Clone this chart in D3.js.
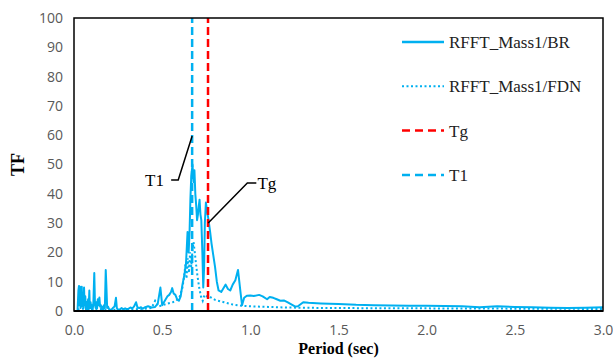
<!DOCTYPE html>
<html>
<head>
<meta charset="utf-8">
<script src="https://cdn.jsdelivr.net/npm/d3@7"></script>
<style>
  body { margin: 0; background: #fff; }
  svg { display: block; }
</style>
</head>
<body>
<svg id="chart" width="613" height="358"></svg>
<script>
// periods (sec) and TF for the BR series
const brPeriod = [0.02,0.025,0.028,0.031,0.034,0.037,0.040,0.044,0.047,0.050,0.054,0.057,0.060,0.064,0.068,0.072,0.076,0.080,0.083,0.087,0.090,0.094,0.098,0.102,0.106,0.110,0.115,0.119,0.123,0.127,0.131,0.135,0.140,0.144,0.148,0.152,0.156,0.160,0.165,0.170,0.175,0.180,0.184,0.188,0.193,0.20,0.21,0.22,0.23,0.238,0.243,0.25,0.26,0.27,0.28,0.29,0.30,0.31,0.32,0.33,0.34,0.352,0.36,0.37,0.38,0.39,0.40,0.42,0.44,0.46,0.475,0.49,0.50,0.51,0.52,0.53,0.54,0.55,0.557,0.565,0.575,0.585,0.595,0.605,0.615,0.625,0.635,0.640,0.644,0.650,0.655,0.660,0.665,0.672,0.678,0.683,0.688,0.693,0.698,0.703,0.708,0.712,0.717,0.722,0.728,0.733,0.738,0.742,0.748,0.755,0.763,0.772,0.78,0.79,0.80,0.81,0.82,0.835,0.85,0.86,0.873,0.886,0.90,0.915,0.93,0.945,0.953,0.965,0.98,1.00,1.02,1.05,1.07,1.095,1.11,1.13,1.15,1.17,1.19,1.21,1.24,1.255,1.27,1.30,1.33,1.40,1.5,1.6,1.7,1.8,1.9,2.0,2.1,2.2,2.3,2.4,2.5,2.6,2.7,2.8,2.9,3.0];
const brTF = [0,7,8.5,2,8.3,1,6,8.3,1.5,4,1,8,2,5,0.5,3,1,4,0.5,7,1,3,1,2,0.5,3,13,2,1,3,1,4,2,4.6,1.5,2,0.5,1.5,0.5,2,1,14,8,1,1.5,0.5,0.3,1,1.5,4.5,1,0.3,0.5,1,0.6,0.9,0.6,0.8,1.2,0.9,1.5,3,1.2,1.0,1.3,0.8,1.2,1.6,1.2,1.4,2.5,8,2,3,4,5,5.5,6.5,7.8,6,5.5,4,3.5,5,9,12,16,22,27,20,26,38,46,50,44,48,40,36,31,33,36,38,33,31,20,8,15,30,37,34,31,27,23,19,15,10,7,6.5,8,9,7.5,7,9,10.5,14,6,2,4.5,5.2,5.3,5.1,5.5,5,4,4.8,4.5,4,3.5,3.6,3,2,1.5,1.6,3,2.8,2.6,2.4,2.1,2.0,1.9,1.8,1.8,1.7,1.6,1.3,1.6,1.4,1.3,1.1,1.0,1.1,1.3];

// FDN series
const fdnPeriod = [0.02,0.05,0.10,0.15,0.20,0.25,0.30,0.35,0.40,0.44,0.46,0.48,0.50,0.53,0.56,0.58,0.60,0.615,0.625,0.632,0.638,0.645,0.652,0.658,0.665,0.672,0.678,0.685,0.692,0.70,0.71,0.72,0.73,0.74,0.75,0.76,0.78,0.80,0.85,0.90,0.95,1.0,1.1,1.2,1.3,1.5,2.0,2.5,3.0];
const fdnTF = [0.5,0.8,0.5,0.6,0.4,0.4,0.5,0.6,0.8,1,3.5,1.5,2,2.5,3,3.5,5,8,12,16,11,18,13,20,15,21,23.5,20,16,12,8,5,3.5,5.5,5,5.2,4.5,3.8,3,2.2,1.8,1.6,1.4,1.2,1.1,1.0,0.9,0.8,0.7];

const seriesNames = ['RFFT_Mass1/BR', 'RFFT_Mass1/FDN', 'Tg', 'T1'];
const periodT1 = 0.67;
const periodTg = 0.76;
const xTicks = [0, 0.5, 1.0, 1.5, 2.0, 2.5, 3.0];
const yTicks = [0, 10, 20, 30, 40, 50, 60, 70, 80, 90, 100];

const blue = '#00B0F0';
const red = '#FF0000';

const margin = { top: 18, right: 10, bottom: 47, left: 74 };
const W = 613, H = 358;
const w = W - margin.left - margin.right;
const h = H - margin.top - margin.bottom;

const svg = d3.select('#chart')
    .append('g')
    .attr('transform', 'translate(' + margin.left + ',' + margin.top + ')');

const x = d3.scaleLinear().domain([0, 3]).range([0, w]);
const y = d3.scaleLinear().domain([0, 100]).range([h, 0]);

// tick labels
svg.append('g')
    .attr('transform', 'translate(0,' + h + ')')
    .call(d3.axisBottom(x).tickValues(xTicks).tickFormat(d3.format('.1f')).tickSize(0).tickPadding(14))
    .call(g => g.select('.domain').remove())
    .selectAll('text')
    .style('font-family', '"Open Sans", sans-serif')
    .style('font-size', '14px')
    .attr('fill', '#595959');

svg.append('g')
    .call(d3.axisLeft(y).tickValues(yTicks).tickSize(0).tickPadding(11))
    .call(g => g.select('.domain').remove())
    .selectAll('text')
    .style('font-family', '"Open Sans", sans-serif')
    .style('font-size', '14px')
    .attr('fill', '#595959');

const line = d3.line().x(d => x(d[0])).y(d => y(d[1]));

svg.append('path')
    .datum(d3.zip(fdnPeriod, fdnTF))
    .attr('d', line)
    .attr('fill', 'none')
    .attr('stroke', blue)
    .attr('stroke-width', 2)
    .attr('stroke-dasharray', '2,2.5');

svg.append('path')
    .datum(d3.zip(brPeriod, brTF))
    .attr('d', line)
    .attr('fill', 'none')
    .attr('stroke', blue)
    .attr('stroke-width', 2)
    .attr('stroke-linejoin', 'round');

// period markers
svg.append('line')
    .attr('x1', x(periodT1)).attr('x2', x(periodT1))
    .attr('y1', y(0)).attr('y2', y(100))
    .attr('stroke', blue).attr('stroke-width', 2.5)
    .attr('stroke-dasharray', '8,4');

svg.append('line')
    .attr('x1', x(periodTg)).attr('x2', x(periodTg))
    .attr('y1', y(0)).attr('y2', y(100))
    .attr('stroke', red).attr('stroke-width', 2.5)
    .attr('stroke-dasharray', '8,4');

// frame
svg.append('rect')
    .attr('width', w).attr('height', h)
    .attr('fill', 'none')
    .attr('stroke', '#000')
    .attr('stroke-width', 1.5);
svg.append('line')
    .attr('x1', 0).attr('x2', w).attr('y1', h).attr('y2', h)
    .attr('stroke', '#000').attr('stroke-width', 2);

// callouts
const serif = '"Liberation Serif", "Times New Roman", serif';
svg.append('path')
    .datum([[0.551, 44.7], [0.591, 44.7], [0.670, 59.7]])
    .attr('d', line).attr('fill', 'none').attr('stroke', '#000').attr('stroke-width', 1.5);
svg.append('text')
    .attr('x', x(0.51)).attr('y', y(44.7))
    .attr('dy', '0.35em').attr('text-anchor', 'end')
    .style('font-family', serif).style('font-size', '17px')
    .text('T1');

svg.append('path')
    .datum([[1.034, 43.7], [0.983, 43.7], [0.761, 30]])
    .attr('d', line).attr('fill', 'none').attr('stroke', '#000').attr('stroke-width', 1.5);
svg.append('text')
    .attr('x', x(1.04)).attr('y', y(43.7))
    .attr('dy', '0.35em')
    .style('font-family', serif).style('font-size', '17px')
    .text('Tg');

// legend
const legendStyles = [
    { stroke: blue, dash: null, w: 2.5 },
    { stroke: blue, dash: '2,2.5', w: 2 },
    { stroke: red, dash: '8,5', w: 2.5 },
    { stroke: blue, dash: '8,5', w: 2.5 }
];
const legend = svg.append('g').attr('transform', 'translate(' + (402 - margin.left) + ',' + (42 - margin.top) + ')');
seriesNames.forEach((name, i) => {
    const g = legend.append('g').attr('transform', 'translate(0,' + i * 44.3 + ')');
    g.append('line')
        .attr('x1', 0).attr('x2', 42)
        .attr('stroke', legendStyles[i].stroke)
        .attr('stroke-width', legendStyles[i].w)
        .attr('stroke-dasharray', legendStyles[i].dash);
    g.append('text')
        .attr('x', 47).attr('dy', '0.35em')
        .style('font-family', serif).style('font-size', '17px')
        .attr('fill', '#222')
        .text(name);
});

// axis titles
svg.append('text')
    .attr('x', w / 2).attr('y', h + 43)
    .attr('text-anchor', 'middle')
    .style('font-family', serif).style('font-size', '16px').style('font-weight', 'bold')
    .text('Period (sec)');

svg.append('text')
    .attr('transform', 'translate(' + (-50) + ',' + (h / 2) + ') rotate(-90)')
    .attr('text-anchor', 'middle')
    .style('font-family', serif).style('font-size', '18px').style('font-weight', 'bold')
    .text('TF');
</script>
</body>
</html>
